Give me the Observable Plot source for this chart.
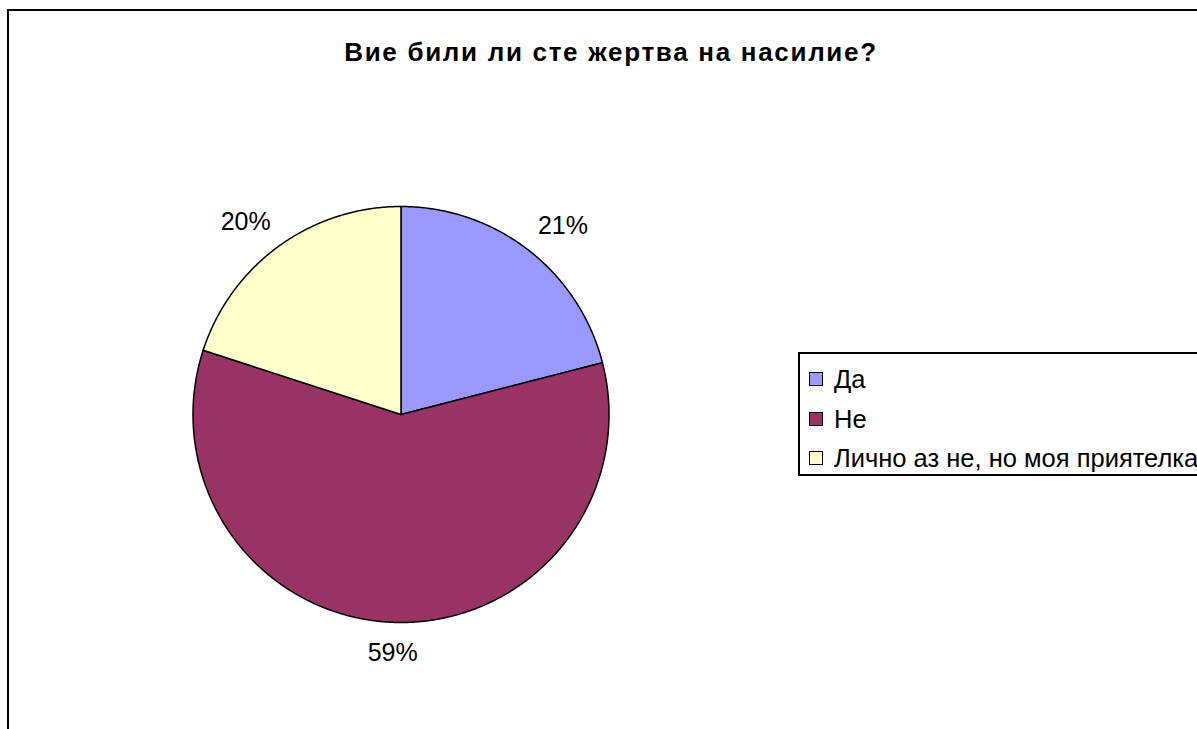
<!DOCTYPE html>
<html><head><meta charset="utf-8">
<script src="https://cdn.jsdelivr.net/npm/d3@7"></script>
<script src="https://cdn.jsdelivr.net/npm/@observablehq/plot@0.6"></script>
<style>
html,body{margin:0;padding:0;background:#fff;}
#wrap{position:relative;width:1197px;height:729px;overflow:hidden;font-family:"Liberation Sans",Arial,sans-serif;color:#000;}
#frame{position:absolute;left:7px;top:9px;width:1300px;height:900px;border:2px solid #000;box-sizing:border-box;}
#chart{position:absolute;left:0;top:0;}
#title{position:absolute;left:0;width:1222px;top:39px;text-align:center;font-weight:bold;font-size:26px;line-height:26px;letter-spacing:1.7px;white-space:nowrap;}
#legend{position:absolute;left:798px;top:352px;width:500px;height:124px;border:2px solid #000;box-sizing:border-box;background:#fff;}
.sw{position:absolute;width:14px;height:14px;border:1.5px solid #000;box-sizing:border-box;}
.lt{position:absolute;font-size:25.5px;line-height:26px;white-space:nowrap;}
</style>
</head><body>
<div id="wrap">
  <div id="frame"></div>
  <div id="chart"></div>
  <div id="title"></div>
  <div id="legend"></div>
</div>
<script>
const titleText = "Вие били ли сте жертва на насилие?";
const categories = ["Да", "Не", "Лично аз не, но моя приятелка"];
const values = [21, 59, 20];
const colors = ["#9999FF", "#993366", "#FFFFCC"];

// pie geometry (unit circle, clockwise from top)
const pie = d3.pie().sort(null).value(d => d.value)(categories.map((c, i) => ({cat: c, value: values[i]})));
const slicePts = [];
pie.forEach(p => {
  const cat = p.data.cat;
  slicePts.push({cat, x: 0, y: 0});
  const n = Math.max(2, Math.ceil((p.endAngle - p.startAngle) / 0.005));
  for (let k = 0; k <= n; k++) {
    const a = p.startAngle + (p.endAngle - p.startAngle) * k / n;
    slicePts.push({cat, x: Math.sin(a), y: Math.cos(a)});
  }
  slicePts.push({cat, x: 0, y: 0});
});
const total = d3.sum(values);
const labels = pie.map(p => {
  const a = (p.startAngle + p.endAngle) / 2;
  return {
    text: Math.round(p.data.value / total * 100) + "%",
    x: 1.27 * Math.sin(a),
    y: 1.145 * Math.cos(a)
  };
});

const R = 208, CX = 400.5, CY = 414;
const plot = Plot.plot({
  width: 1197, height: 729,
  margin: 0,
  x: {domain: [-1, 1], range: [CX - R, CX + R], axis: null},
  y: {domain: [-1, 1], range: [CY + R, CY - R], axis: null},
  color: {domain: categories, range: colors},
  style: {background: "transparent", overflow: "visible"},
  marks: [
    Plot.line(slicePts, {x: "x", y: "y", z: "cat", fill: "cat", stroke: "#000", strokeWidth: 1.5, strokeLinejoin: "round"}),
    Plot.text(labels, {x: "x", y: "y", text: "text", fontSize: 25, fontFamily: "Liberation Sans, Arial, sans-serif", fill: "#000", textAnchor: "middle", lineAnchor: "middle"})
  ]
});
document.getElementById("chart").appendChild(plot);
document.getElementById("title").textContent = titleText;

const leg = document.getElementById("legend");
categories.forEach((c, i) => {
  const cy = 377 + 39.5 * i - 352;
  const sw = document.createElement("div");
  sw.className = "sw";
  sw.style.left = (807 - 798) + "px";
  sw.style.top = (cy - 7) + "px";
  sw.style.background = colors[i];
  leg.appendChild(sw);
  const t = document.createElement("div");
  t.className = "lt";
  t.style.left = (832 - 798) + "px";
  t.style.top = (cy - 13) + "px";
  t.textContent = c;
  leg.appendChild(t);
});
</script>
</body></html>
